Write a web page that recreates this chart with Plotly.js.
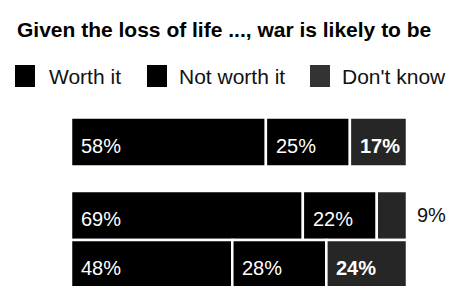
<!DOCTYPE html>
<html>
<head>
<meta charset="utf-8">
<script src="https://cdn.plot.ly/plotly-3.0.1.min.js"></script>
<style>html,body{margin:0;padding:0;background:#fff;}#chart{width:466px;height:286px;}</style>
</head>
<body>
<div id="chart"></div>
<script>
// ---- data ----
const titleText = "Given the loss of life ..., war is likely to be";
const categories = ["Group 1", "Group 2", "Group 3"];
const seriesNames = ["Worth it", "Not worth it", "Don't know"];
const worthIt = [58, 69, 48];
const notWorthIt = [25, 22, 28];
const dontKnow = [17, 9, 24];

// ---- styling / layout ----
const seriesValues = [worthIt, notWorthIt, dontKnow];
const colors = ["#000000", "#000000", "#262626"];
const rowPos = [0, 1.5, 2.5];
const W = 466, H = 286;
const ml = 71, mr = 59, mt = 110, mb = 0;
const plotW = W - ml - mr, plotH = H - mt - mb;
const font = "Liberation Sans, Arial, Helvetica, sans-serif";

const traces = seriesValues.map((vals, s) => {
  const base = vals.map((v, i) => {
    let b = 0;
    for (let k = 0; k < s; k++) b += seriesValues[k][i];
    return b;
  });
  return {
    type: "bar",
    orientation: "h",
    name: seriesNames[s],
    x: vals,
    base: base,
    y: rowPos,
    width: 1.0,
    marker: { color: colors[s], line: { color: "#ffffff", width: 2.5 } },
    hoverinfo: "skip",
    showlegend: false,
    customdata: categories
  };
});

const annotations = [];
seriesValues.forEach((vals, s) => {
  vals.forEach((v, i) => {
    let start = 0;
    for (let k = 0; k < s; k++) start += seriesValues[k][i];
    const outside = (s === 2 && v < 12);
    annotations.push({
      xref: "x", yref: "y",
      x: outside ? start + v : start,
      y: rowPos[i],
      xanchor: "left", yanchor: "middle",
      xshift: 8, yshift: outside ? 0 : -4,
      text: (s === 2 && !outside) ? "<b>" + v + "%</b>" : v + "%",
      showarrow: false,
      font: { family: font, size: 20, color: outside ? "#111111" : "#ffffff" }
    });
  });
});

// custom legend (pixel positions converted to paper coordinates)
const px = x => (x - ml) / plotW;
const py = y => 1 - (y - mt) / plotH;
const legendSquares = [15, 147, 310];
const legendTexts = [47, 177, 340];
const shapes = [];
seriesNames.forEach((n, s) => {
  shapes.push({
    type: "rect", xref: "paper", yref: "paper",
    x0: px(legendSquares[s]), x1: px(legendSquares[s] + 20),
    y0: py(65), y1: py(87),
    fillcolor: colors[s] === "#000000" ? "#000000" : "#333333",
    line: { width: 0 }
  });
  annotations.push({
    xref: "paper", yref: "paper",
    x: px(legendTexts[s]), y: py(76),
    xanchor: "left", yanchor: "middle",
    text: n, showarrow: false,
    font: { family: font, size: 21, color: "#111111" }
  });
});

const layout = {
  width: W, height: H,
  margin: { l: ml, r: mr, t: mt, b: mb },
  paper_bgcolor: "#ffffff", plot_bgcolor: "#ffffff",
  barmode: "overlay",
  showlegend: false,
  title: {
    text: "<b>" + titleText + "</b>",
    font: { family: font, size: 21, color: "#000000" },
    x: 17 / W, xanchor: "left", xref: "container",
    y: 1 - 30 / H, yanchor: "middle", yref: "container"
  },
  xaxis: { range: [0, 100], visible: false, fixedrange: true },
  yaxis: { range: [2.939, -0.653], visible: false, fixedrange: true },
  annotations: annotations,
  shapes: shapes
};

Plotly.newPlot("chart", traces, layout, { displayModeBar: false, staticPlot: true });
</script>
</body>
</html>
